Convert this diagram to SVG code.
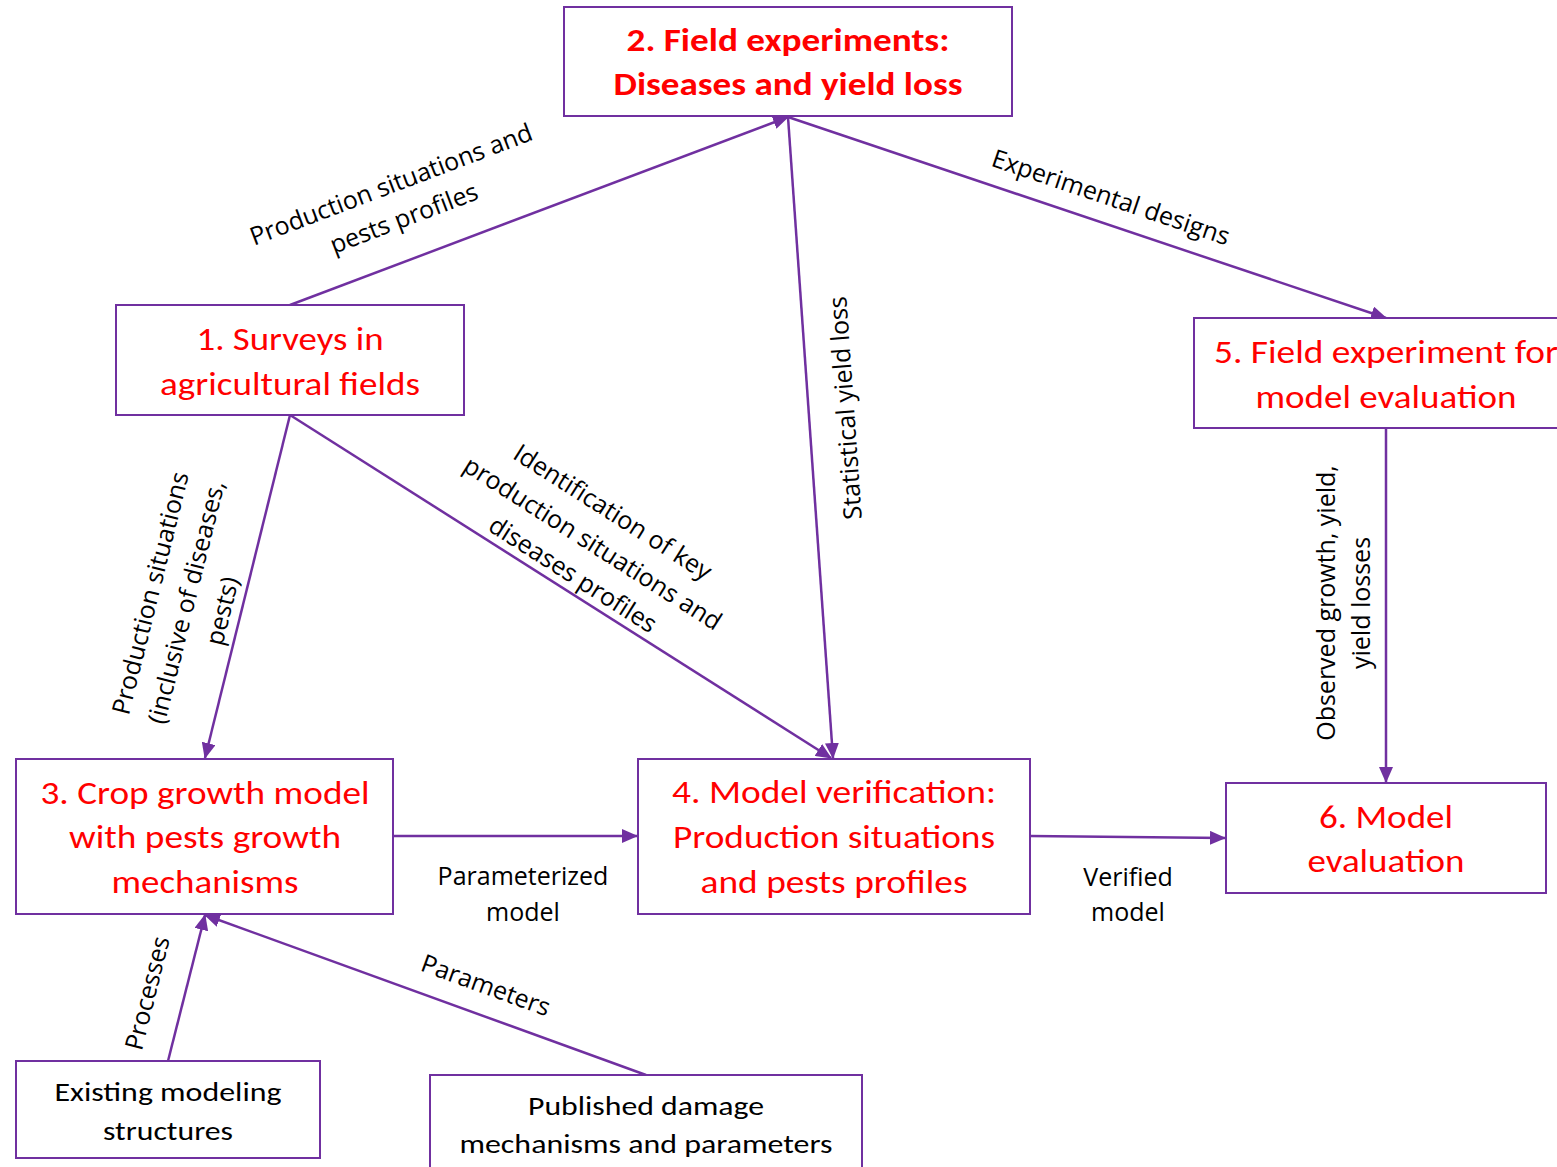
<svg xmlns="http://www.w3.org/2000/svg" width="1557" height="1167" viewBox="0 0 1557 1167">
<style>
.box{fill:#fff;stroke:#7030A0;stroke-width:2}
.nt{font-family:Carlito,Lato,"Liberation Sans",sans-serif;font-size:32px;fill:#FF0000;text-anchor:middle}
.bt{font-family:Carlito,Lato,"Liberation Sans",sans-serif;font-size:27px;fill:#000;text-anchor:middle}
.b{font-weight:bold}
.lb{font-family:"Open Sans","DejaVu Sans",sans-serif;font-size:25px;fill:#000;text-anchor:middle}
.c{fill:none;stroke:#7030A0;stroke-width:2.5}
</style>
<defs>
<marker id="ah" markerUnits="userSpaceOnUse" markerWidth="16" markerHeight="14" viewBox="0 0 16 14" refX="15" refY="7" orient="auto">
<path d="M0,0 L16,7 L0,14 Z" fill="#7030A0"/>
</marker>
</defs>
<rect width="1557" height="1167" fill="#fff"/>
<g id="connectors">
<line class="c" x1="290" y1="305" x2="788" y2="117" marker-end="url(#ah)"/>
<line class="c" x1="788" y1="117" x2="833" y2="758" marker-end="url(#ah)"/>
<line class="c" x1="788" y1="117" x2="1386" y2="318" marker-end="url(#ah)"/>
<line class="c" x1="290" y1="415" x2="205" y2="758" marker-end="url(#ah)"/>
<line class="c" x1="290" y1="415" x2="831" y2="758" marker-end="url(#ah)"/>
<line class="c" x1="1386" y1="428" x2="1386" y2="782" marker-end="url(#ah)"/>
<line class="c" x1="393" y1="836" x2="637" y2="836" marker-end="url(#ah)"/>
<line class="c" x1="1030" y1="836" x2="1225" y2="838" marker-end="url(#ah)"/>
<line class="c" x1="168" y1="1061" x2="205" y2="915" marker-end="url(#ah)"/>
<line class="c" x1="646" y1="1075" x2="205" y2="915" marker-end="url(#ah)"/>
<g id="labels">
<text class="lb" transform="translate(397,200) rotate(-20.8)"><tspan x="0" y="-8">Production situations and</tspan><tspan x="0" y="28">pests profiles</tspan></text>
<text class="lb" transform="translate(1111,197) rotate(18.7)"><tspan x="0" y="9">Experimental designs</tspan></text>
<text class="lb" transform="translate(845,408) rotate(-94)"><tspan x="0" y="9">Statistical yield loss</tspan></text>
<text class="lb" transform="translate(186,602) rotate(-76)"><tspan x="0" y="-28">Production situations</tspan><tspan x="0" y="9">(inclusive of diseases,</tspan><tspan x="0" y="46">pests)</tspan></text>
<text class="lb" transform="translate(593,543) rotate(32.5)"><tspan x="0" y="-28">Identification of key</tspan><tspan x="0" y="9">production situations and</tspan><tspan x="0" y="46">diseases profiles</tspan></text>
<text class="lb" transform="translate(1343,603) rotate(-90)"><tspan x="0" y="-8">Observed growth, yield,</tspan><tspan x="0" y="27">yield losses</tspan></text>
<text class="lb"><tspan x="523" y="885">Parameterized</tspan><tspan x="523" y="921">model</tspan></text>
<text class="lb"><tspan x="1128" y="886">Verified</tspan><tspan x="1128" y="921">model</tspan></text>
<text class="lb" transform="translate(147,993) rotate(-76)"><tspan x="0" y="9">Processes</tspan></text>
<text class="lb" transform="translate(486,985) rotate(20)"><tspan x="0" y="9">Parameters</tspan></text>
</g>
</g>
<g id="node2">
<rect class="box" x="564" y="7" width="448" height="109"/>
<text class="nt b" x="788" y="51" textLength="323" lengthAdjust="spacingAndGlyphs">2. Field experiments:</text>
<text class="nt b" x="788" y="95" textLength="349" lengthAdjust="spacingAndGlyphs">Diseases and yield loss</text>
</g>
<g id="node1">
<rect class="box" x="116" y="305" width="348" height="110"/>
<text class="nt" x="290" y="350" textLength="187" lengthAdjust="spacingAndGlyphs">1. Surveys in</text>
<text class="nt" x="290" y="395" textLength="260" lengthAdjust="spacingAndGlyphs">agricultural fields</text>
</g>
<g id="node5">
<rect class="box" x="1194" y="318" width="384" height="110"/>
<text class="nt" x="1386" y="363" textLength="344" lengthAdjust="spacingAndGlyphs">5. Field experiment for</text>
<text class="nt" x="1386" y="408" textLength="261" lengthAdjust="spacingAndGlyphs">model evaluation</text>
</g>
<g id="node3">
<rect class="box" x="16" y="759" width="377" height="155"/>
<text class="nt" x="205" y="804" textLength="329" lengthAdjust="spacingAndGlyphs">3. Crop growth model</text>
<text class="nt" x="205" y="848" textLength="272" lengthAdjust="spacingAndGlyphs">with pests growth</text>
<text class="nt" x="205" y="893" textLength="187" lengthAdjust="spacingAndGlyphs">mechanisms</text>
</g>
<g id="node4">
<rect class="box" x="638" y="759" width="392" height="155"/>
<text class="nt" x="834" y="803" textLength="324" lengthAdjust="spacingAndGlyphs">4. Model verification:</text>
<text class="nt" x="834" y="848" textLength="322" lengthAdjust="spacingAndGlyphs">Production situations</text>
<text class="nt" x="834" y="893" textLength="267" lengthAdjust="spacingAndGlyphs">and pests profiles</text>
</g>
<g id="node6">
<rect class="box" x="1226" y="783" width="320" height="110"/>
<text class="nt" x="1386" y="828" textLength="134" lengthAdjust="spacingAndGlyphs">6. Model</text>
<text class="nt" x="1386" y="872" textLength="157" lengthAdjust="spacingAndGlyphs">evaluation</text>
</g>
<g id="existing">
<rect class="box" x="16" y="1061" width="304" height="97"/>
<text class="bt" x="168" y="1101" textLength="227" lengthAdjust="spacingAndGlyphs">Existing modeling</text>
<text class="bt" x="168" y="1140" textLength="130" lengthAdjust="spacingAndGlyphs">structures</text>
</g>
<g id="published">
<rect class="box" x="430" y="1075" width="432" height="110"/>
<text class="bt" x="646" y="1115" textLength="236" lengthAdjust="spacingAndGlyphs">Published damage</text>
<text class="bt" x="646" y="1153" textLength="373" lengthAdjust="spacingAndGlyphs">mechanisms and parameters</text>
</g>
</svg>
